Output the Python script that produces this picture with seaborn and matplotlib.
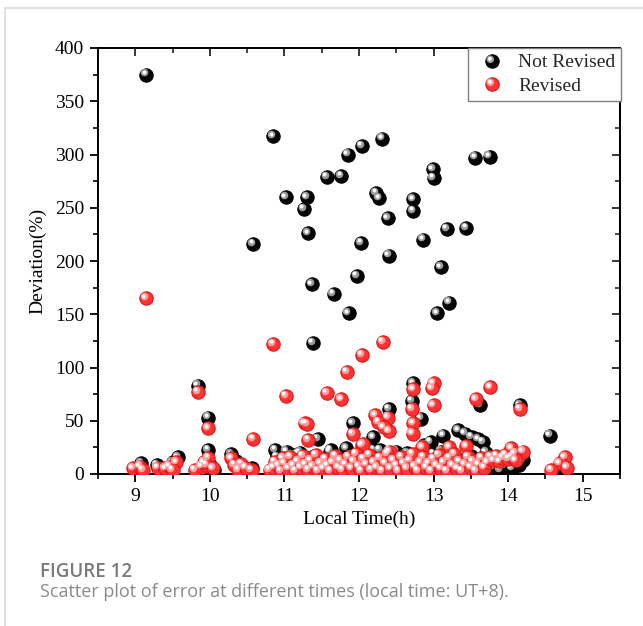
import matplotlib
matplotlib.use("Agg")
import numpy as np
import pandas as pd
import seaborn as sns
import matplotlib.pyplot as plt
from matplotlib.lines import Line2D
from matplotlib.path import Path
from matplotlib.ticker import MultipleLocator
from matplotlib.transforms import ScaledTranslation
from matplotlib.legend_handler import HandlerTuple

# Deviation of the model before correction
nr_time = [9.15, 10.85, 11.02, 11.30, 11.26, 11.32, 11.57, 11.76, 11.85, 12.04,
           12.31, 12.23, 12.27, 12.39, 12.73, 12.73, 12.40, 12.99, 13.00, 12.86,
           13.18, 13.44, 13.56, 13.75, 10.58, 11.97, 12.03, 11.37, 11.66, 11.86,
           11.38, 13.10, 13.21, 13.05,
           9.84, 9.98, 11.45, 11.92, 12.73, 12.71, 13.62, 14.16, 12.40, 12.83,
           12.19, 14.56, 13.13, 12.96, 12.87, 13.33, 13.42, 13.51, 13.60, 13.66,
           9.98,
           9.08, 9.29, 9.57, 10.29, 10.56, 10.88, 11.18, 11.62, 11.83, 11.03,
           11.21, 11.61, 12.12, 12.28, 12.50, 12.64, 12.19, 10.00, 10.05, 9.50,
           10.35, 10.45, 10.90, 11.00, 11.10, 11.30, 11.40, 11.50, 11.70, 11.90,
           12.00, 12.20, 12.35, 12.45, 12.55, 12.70, 12.80, 12.90, 13.00, 13.10,
           13.20, 13.30, 13.40, 13.50, 13.60, 13.70, 13.75, 13.80, 13.85, 13.90,
           13.95, 14.00, 14.05, 14.10, 14.15, 14.20, 14.73, 13.65, 13.55, 13.45,
           12.60, 12.30, 11.80, 11.20]
nr_dev = [375, 317, 260, 260, 249, 226, 279, 280, 300, 308,
          315, 264, 259, 240, 258, 247, 205, 286, 278, 220,
          230, 231, 297, 298, 216, 186, 217, 178, 169, 151,
          123, 194, 161, 151,
          83, 53, 33, 47.6, 85, 68.5, 65, 64.5, 61, 52,
          34.5, 36, 36, 30.3, 27, 41, 38, 35, 32.6, 30.3,
          22.5,
          10, 8.5, 15.7, 18.5, 5.4, 22.5, 19, 22.5, 24, 21,
          20, 21, 22.5, 22.5, 21, 19.4, 22.5, 8, 4, 11,
          12, 6, 16, 13, 18, 15, 17, 12, 14, 18,
          15, 17, 14, 12, 16, 13, 17, 14, 19, 21,
          18, 15, 13, 17, 12, 20, 8, 6, 10, 4,
          7, 12, 5, 9, 8.5, 13, 6, 3, 5, 4,
          3, 5, 4, 3]

# Deviation of the model after correction
rv_time = [9.14, 10.85, 12.04, 12.32, 11.84, 11.02, 11.57, 11.76,
           9.84, 9.98, 10.58, 11.27, 11.30, 11.32, 11.92, 12.04, 12.73, 13.00,
           12.98, 12.71, 13.00, 13.76, 13.57, 14.16, 12.39, 12.22, 12.26, 12.40,
           12.33, 12.73, 12.72, 12.05, 13.21, 13.44, 12.85, 12.41, 14.04, 14.20,
           14.09, 14.76, 14.69, 14.58, 14.79,
           8.97, 9.06, 9.10, 9.30, 9.40, 9.46, 9.55, 9.50, 9.80, 9.89,
           9.98, 9.95, 10.04, 9.92, 10.29, 10.33, 10.42, 10.38, 10.56, 10.48,
           10.80, 10.87, 10.98,
           10.85, 10.92, 10.95, 11.00, 11.05, 11.08, 11.12, 11.15, 11.18, 11.22,
           11.25, 11.28, 11.32, 11.35, 11.38, 11.42, 11.45, 11.48, 11.52, 11.55,
           11.58, 11.62, 11.65, 11.68, 11.72, 11.75, 11.78, 11.82, 11.86, 11.90,
           11.93, 11.96, 12.00, 12.03, 12.06, 12.10, 12.14, 12.17, 12.20, 12.24,
           12.28, 12.31, 12.35, 12.38, 12.42, 12.46, 12.50, 12.53, 12.57, 12.60,
           12.64, 12.68, 12.72, 12.75, 12.79, 12.82, 12.86, 12.90, 12.93, 12.97,
           13.00, 13.04, 13.07, 13.10, 13.14, 13.18, 13.21, 13.25, 13.28, 13.32,
           13.35, 13.38, 13.42, 13.46, 13.50, 13.53, 13.57, 13.60, 13.64, 13.68,
           13.72, 13.76, 13.80, 13.84, 13.88, 13.92, 13.96, 14.00, 14.05, 14.10]
rv_dev = [165, 122, 112, 124, 96, 73.5, 76, 70,
          77, 43, 33, 47.6, 47, 32, 37.5, 27, 79.5, 85,
          80.5, 61, 64.5, 81.5, 70, 61, 53, 55, 49, 40,
          44, 47.6, 38, 28, 25, 26, 25, 21, 24, 21,
          19.4, 15.7, 10, 3.8, 6,
          5.3, 7, 4, 6, 5.4, 7, 11, 4, 3.8, 7,
          15, 8.5, 5.4, 11, 14.7, 8.5, 9.4, 4, 3.8, 6,
          3.8, 11.5, 14.7,
          6, 8, 3, 10, 5, 16, 8, 3, 12, 6,
          17, 9, 4, 13, 7, 18, 3, 10, 5, 14,
          8, 3, 11, 17, 6, 13, 4, 9, 16, 5,
          12, 19, 7, 3, 14, 9, 18, 4, 11, 6,
          15, 3, 10, 19, 5, 13, 8, 3, 16, 10,
          5, 13, 19, 7, 3, 11, 16, 6, 10, 3,
          14, 8, 18, 5, 11, 3, 15, 8, 19, 5,
          12, 3, 9, 16, 6, 12, 3, 9, 15, 6,
          11, 16, 13, 17, 12, 15, 18, 14, 16, 13]

x_ticks = [9, 10, 11, 12, 13, 14, 15]
y_ticks = [0, 50, 100, 150, 200, 250, 300, 350, 400]
series_names = ["Not Revised", "Revised"]

sns.set_theme(style="ticks")
plt.rcParams["font.family"] = ["Liberation Serif", "DejaVu Serif"]
plt.rcParams["axes.formatter.use_mathtext"] = False

fig = plt.figure(figsize=(6.43, 6.26), dpi=100)
ax = fig.add_axes([98 / 643, 1 - 474 / 626, 522 / 643, 426 / 626])

nr = pd.DataFrame({"time": nr_time, "dev": nr_dev})
rv = pd.DataFrame({"time": rv_time, "dev": rv_dev})

BLACK = ("#050505", "#000000", "#9a9a9a")
RED = ("#ff3333", "#d81818", "#ff9c9c")

# highlight layers: (marker area, colour key, shift in px)
GLOW, SPARK = (30, 2.2), (8, 2.6)


def spheres(df, body, edge, glow):
    """Draw shaded balls: a solid body plus two offset highlight layers."""
    sns.scatterplot(data=df, x="time", y="dev", ax=ax, s=92, color=body,
                    edgecolor=edge, linewidth=0.8, legend=False, zorder=3)
    for (size, shift), col in [(GLOW, glow), (SPARK, "white")]:
        sns.scatterplot(data=df, x="time", y="dev", ax=ax, s=size, color=col,
                        linewidth=0, legend=False, zorder=3)
        ax.collections[-1].set_offset_transform(
            ax.transData + ScaledTranslation(-shift / 100, shift / 100,
                                             fig.dpi_scale_trans))


spheres(nr, *BLACK)
spheres(rv, *RED)

ax.set_xlim(8.5, 15.5)
ax.set_ylim(0, 400)
ax.set_xticks(x_ticks, labels=[str(v) for v in x_ticks])
ax.set_yticks(y_ticks, labels=[str(v) for v in y_ticks])
ax.xaxis.set_minor_locator(MultipleLocator(0.5))
ax.yaxis.set_minor_locator(MultipleLocator(25))
ax.tick_params(which="major", direction="out", length=6, width=1.3,
               labelsize=14, color="black", labelcolor="black", pad=4)
ax.tick_params(which="minor", direction="out", length=3.5, width=1.2,
               color="black")
for lbl in ax.get_xticklabels() + ax.get_yticklabels():
    lbl.set_family(["Liberation Serif", "DejaVu Serif"])
for sp in ax.spines.values():
    sp.set_linewidth(1.4)
    sp.set_color("black")

# Mirrored inward ticks on the top and right edges
top = ax.secondary_xaxis("top")
top.set_xticks(x_ticks)
top.xaxis.set_minor_locator(MultipleLocator(0.5))
top.tick_params(which="major", direction="in", length=6, width=1.3, labeltop=False)
top.tick_params(which="minor", direction="in", length=3.5, width=1.2)
top.spines["top"].set_linewidth(1.4)
right = ax.secondary_yaxis("right")
right.set_yticks(y_ticks)
right.yaxis.set_minor_locator(MultipleLocator(25))
right.tick_params(which="major", direction="in", length=6, width=1.3, labelright=False)
right.tick_params(which="minor", direction="in", length=3.5, width=1.2)
right.spines["right"].set_linewidth(1.4)

ax.set_xlabel("Local Time(h)", fontsize=14, color="black", labelpad=4)
ax.set_ylabel("Deviation(%)", fontsize=14, color="black", labelpad=6)


def offset_dot(area, shift_px):
    """Legend marker: a small disc shifted up-left, sized in points."""
    r = np.sqrt(area) / 2.0
    c = shift_px * 0.72
    path = Path.circle((-c, c), r)
    return path, 2 * (c + r)


handles = []
for body, edge, glow in [BLACK, RED]:
    parts = [Line2D([], [], marker="o", ls="", ms=np.sqrt(92), mfc=body,
                    mec=edge, mew=0.8)]
    for (size, shift), col in [(GLOW, glow), (SPARK, "white")]:
        path, ms = offset_dot(size, shift)
        parts.append(Line2D([], [], marker=path, ls="", ms=ms, mfc=col,
                            mec="none"))
    handles.append(tuple(parts))
leg = ax.legend(handles, series_names, loc="upper right",
                bbox_to_anchor=(1.002, 1.0), borderaxespad=0,
                handler_map={tuple: HandlerTuple(ndivide=1)},
                fontsize=14, frameon=True, fancybox=False, framealpha=1,
                edgecolor="#808080", handletextpad=0.4, borderpad=0.3,
                labelspacing=0.3, handlelength=1.85)
leg.get_frame().set_linewidth(1.0)
leg.set_zorder(5)

# Caption block
fig.text(40 / 643, 1 - 572 / 626, "FIGURE 12", fontsize=13.5,
         family=["Open Sans", "DejaVu Sans"], weight="semibold",
         color="#7a7a7a", va="center", ha="left")
fig.text(40 / 643, 1 - 592 / 626,
         "Scatter plot of error at different times (local time: UT+8).",
         fontsize=13, family=["Open Sans", "DejaVu Sans"], color="#8a8a8a",
         va="center", ha="left")

# Thin page frame on the top and left
fig.add_artist(Line2D([5 / 643, 1], [1 - 8 / 626, 1 - 8 / 626],
                      transform=fig.transFigure, color="#dadada", lw=1.2))
fig.add_artist(Line2D([5 / 643, 5 / 643], [0, 1 - 8 / 626],
                      transform=fig.transFigure, color="#dadada", lw=1.2))

fig.savefig("out.png", dpi=100, facecolor="white")
